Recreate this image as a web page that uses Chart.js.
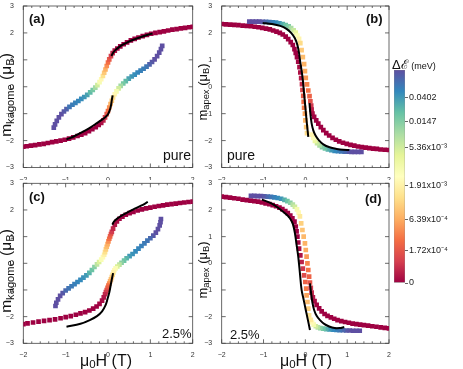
<!DOCTYPE html>
<html>
<head>
<meta charset="utf-8">
<script src="https://cdn.jsdelivr.net/npm/chart.js@4.4.1/dist/chart.umd.min.js"></script>
<style>
  body { margin: 0; background: #fff; width: 463px; height: 369px; position: relative; overflow: hidden;
         font-family: "Liberation Sans", Arial, sans-serif; }
  canvas { position: absolute; }
  .txt { position: absolute; white-space: nowrap; color: #111; line-height: 1; }
  .rot { transform: translate(-50%, -50%) rotate(-90deg); }
  .mid { transform: translate(-50%, -50%); }
  .s { font-size: 0.72em; vertical-align: -0.2em; }
  .lab { font-weight: bold; font-size: 13px; }
</style>
</head>
<body>
<canvas id="pa" width="200" height="180" style="left:0;top:0"></canvas>
<canvas id="pb" width="200" height="180" style="left:200px;top:0"></canvas>
<canvas id="pc" width="200" height="193" style="left:0;top:176px"></canvas>
<canvas id="pd" width="200" height="193" style="left:200px;top:176px"></canvas>
<canvas id="cbar" width="78" height="240" style="left:385px;top:55px"></canvas>

<div class="txt rot" style="left:7px;top:95px;font-size:15.5px">m<span class="s">kagome</span> (μ<span class="s">B</span>)</div>
<div class="txt rot" style="left:204px;top:92px;font-size:13px">m<span class="s">apex</span> (μ<span class="s">B</span>)</div>
<div class="txt rot" style="left:7px;top:271px;font-size:15.5px">m<span class="s">kagome</span> (μ<span class="s">B</span>)</div>
<div class="txt rot" style="left:204px;top:270px;font-size:13px">m<span class="s">apex</span> (μ<span class="s">B</span>)</div>
<div class="txt mid" style="left:106px;top:362px;font-size:16px">μ<span class="s">0</span>H (T)</div>
<div class="txt mid" style="left:306px;top:362px;font-size:16px">μ<span class="s">0</span>H (T)</div>
<div class="txt lab" style="left:29px;top:12px">(a)</div>
<div class="txt lab" style="left:366px;top:12px">(b)</div>
<div class="txt lab" style="left:29px;top:190px">(c)</div>
<div class="txt lab" style="left:365px;top:192px">(d)</div>
<div class="txt" style="left:163px;top:148px;font-size:14px">pure</div>
<div class="txt" style="left:227px;top:148px;font-size:14px">pure</div>
<div class="txt" style="left:162px;top:327px;font-size:13px">2.5%</div>
<div class="txt" style="left:230px;top:328px;font-size:13px">2.5%</div>
<div class="txt" style="left:392px;top:58px;font-size:13px">Δℰ<span style="font-size:9px"> (meV)</span></div>

<script>
// Colour bar: energy gap ΔE (meV) and where each tick sits along the bar (0 = bottom, 1 = top)
const cbarLabels = ["0", "1.72x10⁻⁴", "6.39x10⁻⁴", "1.91x10⁻³", "5.36x10⁻³", "0.0147", "0.0402"];
const cbarValues = [0, 1.72e-4, 6.39e-4, 1.91e-3, 5.36e-3, 0.0147, 0.0402];
const cbarPos = [0, 0.152, 0.296, 0.457, 0.637, 0.76, 0.87];
const cbarTop = 0.13; // gap at the very top of the bar

// (a) m_kagome, pure - field up sweep, field down sweep (shared gap colours)
const aUpH = [-1.28,-1.25,-1.21,-1.16,-1.1,-1.04,-0.98,-0.91,-0.84,-0.77,-0.7,-0.63,-0.56,-0.49,-0.42,-0.36,-0.3,-0.25,-0.2,-0.16,-0.12,-0.09,-0.06,-0.03,0,0.03,0.07,0.11,0.16,0.22,0.29,0.37,0.45,0.54,0.63,0.72,0.82,0.92,1.02,1.12,1.22,1.32,1.42,1.52,1.62,1.72,1.82,1.92,2.0];
const aUpM = [-1.52,-1.4,-1.27,-1.14,-1.02,-0.92,-0.83,-0.75,-0.67,-0.6,-0.53,-0.45,-0.38,-0.3,-0.21,-0.12,-0.03,0.06,0.17,0.28,0.4,0.52,0.64,0.77,0.9,1.02,1.14,1.25,1.34,1.42,1.5,1.58,1.65,1.72,1.78,1.83,1.88,1.93,1.97,2.0,2.03,2.06,2.09,2.12,2.14,2.17,2.19,2.21,2.23];
const aDnH = [1.28,1.25,1.21,1.16,1.1,1.04,0.98,0.91,0.84,0.77,0.7,0.63,0.56,0.49,0.42,0.36,0.3,0.25,0.2,0.16,0.12,0.09,0.06,0.03,0,-0.03,-0.07,-0.11,-0.16,-0.22,-0.29,-0.37,-0.45,-0.54,-0.63,-0.72,-0.82,-0.92,-1.02,-1.12,-1.22,-1.32,-1.42,-1.52,-1.62,-1.72,-1.82,-1.92,-2.0];
const aDnM = [1.52,1.4,1.27,1.14,1.02,0.92,0.83,0.75,0.67,0.6,0.53,0.45,0.38,0.3,0.21,0.12,0.03,-0.06,-0.17,-0.28,-0.4,-0.52,-0.64,-0.77,-0.9,-1.02,-1.14,-1.25,-1.34,-1.42,-1.5,-1.58,-1.65,-1.72,-1.78,-1.83,-1.88,-1.93,-1.97,-2.0,-2.03,-2.06,-2.09,-2.12,-2.14,-2.17,-2.19,-2.21,-2.23];
const aGap = [0.15,0.15,0.15,0.14,0.13,0.12,0.11,0.085,0.075,0.07,0.065,0.055,0.045,0.037,0.027,0.019,0.011,0.0055,0.0034,0.0023,0.0015,0.0011,7.5e-4,5e-4,3.3e-4,1.9e-4,1.2e-4,7e-5,3e-5,1e-5,0,0,0,0,0,0,0,0,0,0,0,0,0,0,0,0,0,0,0];
const aFitUpH = [0.08,0.12,0.18,0.26,0.36,0.48,0.62,0.78,0.94,1.05];
const aFitUpM = [1.14,1.26,1.37,1.47,1.57,1.67,1.76,1.85,1.93,1.98];
const aFitDnH = [0.11,0.09,0.07,0.04,0.0,-0.06,-0.14,-0.26,-0.42,-0.6,-0.8,-0.98];
const aFitDnM = [-0.32,-0.5,-0.7,-0.88,-1.02,-1.12,-1.22,-1.35,-1.52,-1.68,-1.84,-1.96];

// (b) m_apex, pure
const bUpH = [-1.34,-1.26,-1.18,-1.1,-1.02,-0.94,-0.86,-0.78,-0.7,-0.62,-0.54,-0.47,-0.4,-0.34,-0.28,-0.23,-0.19,-0.15,
  -0.12,-0.09,-0.06,-0.03,-0.01,0.01,0.04,0.07,0.1,0.12,0.14,0.15,
  0.17,0.21,0.26,0.31,0.37,0.43,0.5,0.57,0.65,0.73,0.81,0.9,0.99,1.08,1.17,1.26,1.35,1.44,1.53,1.62,1.71,1.8,1.9,2.0];
const bUpM = [2.42,2.42,2.42,2.42,2.41,2.41,2.4,2.39,2.38,2.36,2.33,2.29,2.24,2.18,2.1,2.01,1.9,1.78,
  1.62,1.36,1.1,0.84,0.58,0.33,0.09,-0.14,-0.35,-0.54,-0.7,-0.85,
  -1.0,-1.12,-1.25,-1.37,-1.5,-1.61,-1.72,-1.81,-1.9,-1.97,-2.03,-2.08,-2.12,-2.16,-2.19,-2.22,-2.24,-2.26,-2.28,-2.3,-2.31,-2.33,-2.34,-2.35];
const bUpGap = [0.15,0.15,0.14,0.13,0.12,0.1,0.085,0.072,0.06,0.045,0.032,0.022,0.015,0.01,0.0065,0.0042,0.003,0.0021,
  1.4e-3,1.1e-3,9e-4,7.5e-4,6.5e-4,5.5e-4,4.5e-4,3.5e-4,2.5e-4,1.6e-4,1e-4,6e-5,
  3e-5,1e-5,0,0,0,0,0,0,0,0,0,0,0,0,0,0,0,0,0,0,0,0,0,0];
const bDnH = [1.34,1.26,1.18,1.1,1.02,0.94,0.86,0.78,0.7,0.62,0.54,0.47,0.4,0.34,0.28,0.23,0.19,0.15,
  0.04,0.02,0.0,-0.01,-0.03,-0.04,-0.05,-0.07,-0.08,-0.1,-0.12,-0.14,-0.17,-0.2,-0.23,-0.26,
  -0.3,-0.35,-0.41,-0.47,-0.54,-0.61,-0.69,-0.77,-0.85,-0.94,-1.03,-1.12,-1.21,-1.3,-1.4,-1.5,-1.6,-1.7,-1.8,-1.9,-2.0];
const bDnM = [-2.42,-2.42,-2.42,-2.42,-2.41,-2.41,-2.4,-2.39,-2.38,-2.36,-2.33,-2.29,-2.24,-2.18,-2.1,-2.01,-1.9,-1.78,
  -1.72,-1.5,-1.25,-1.0,-0.78,-0.56,-0.34,-0.12,0.1,0.32,0.53,0.73,0.93,1.1,1.26,1.4,
  1.55,1.66,1.77,1.86,1.94,2.0,2.05,2.09,2.13,2.16,2.19,2.21,2.23,2.25,2.26,2.27,2.29,2.3,2.31,2.32,2.33];
const bDnGap = [0.15,0.15,0.14,0.13,0.12,0.1,0.085,0.072,0.06,0.045,0.032,0.022,0.015,0.01,0.0065,0.0042,0.003,0.0021,
  1.4e-3,1.1e-3,8e-4,6e-4,4e-4,3e-4,2e-4,1.3e-4,8e-5,5e-5,3e-5,2e-5,1e-5,0,0,0,
  0,0,0,0,0,0,0,0,0,0,0,0,0,0,0,0,0,0,0,0,0];
const bFitUpH = [-1.02,-0.8,-0.6,-0.45,-0.34,-0.25,-0.19,-0.15,-0.12,-0.09,-0.06,-0.04,-0.01,0.02,0.045,0.07];
const bFitUpM = [2.37,2.33,2.26,2.15,2.0,1.8,1.55,1.24,0.9,0.6,0.25,-0.1,-0.6,-1.1,-1.5,-1.86];
const bFitDnH = [0.1,0.12,0.15,0.19,0.24,0.32,0.43,0.58,0.75,0.9,1.05];
const bFitDnM = [-0.61,-1.0,-1.36,-1.62,-1.8,-1.98,-2.14,-2.25,-2.31,-2.34,-2.35];

// (c) m_kagome, 2.5%
const cUpH = [-1.24,-1.22,-1.18,-1.13,-1.07,-1.0,-0.93,-0.86,-0.79,-0.72,-0.65,-0.58,-0.51,-0.44,-0.38,-0.32,-0.26,-0.21,-0.16,-0.12,-0.09,-0.07,-0.05,-0.03,-0.01,0.01,0.03,0.05,0.07,0.09,0.12,0.16,0.21,0.27,0.34,0.42,0.51,0.6,0.7,0.8,0.9,1.0,1.1,1.2,1.3,1.4,1.5,1.6,1.7,1.8,1.9,2.0];
const cUpM = [-1.6,-1.48,-1.35,-1.22,-1.12,-1.02,-0.94,-0.86,-0.78,-0.7,-0.62,-0.54,-0.45,-0.36,-0.25,-0.14,-0.04,0.05,0.14,0.23,0.32,0.42,0.52,0.62,0.72,0.82,0.92,1.01,1.1,1.18,1.3,1.45,1.57,1.67,1.75,1.82,1.88,1.93,1.98,2.02,2.06,2.09,2.12,2.15,2.17,2.2,2.22,2.24,2.26,2.28,2.3,2.31];
const cUpGap = [0.15,0.15,0.15,0.14,0.12,0.1,0.085,0.078,0.072,0.066,0.058,0.05,0.04,0.03,0.022,0.014,0.008,0.005,0.0032,0.0024,0.0019,0.0015,0.0012,9e-4,7e-4,5e-4,3.5e-4,2.5e-4,1.7e-4,1.1e-4,7e-5,4e-5,2e-5,1e-5,0,0,0,0,0,0,0,0,0,0,0,0,0,0,0,0,0,0];
const cDnH = [1.25,1.24,1.22,1.18,1.13,1.07,1.0,0.93,0.86,0.79,0.72,0.65,0.58,0.51,0.44,0.38,0.32,0.27,0.22,0.18,0.15,0.13,0.11,0.09,0.07,0.05,0.03,0.01,-0.01,-0.03,-0.05,-0.07,-0.1,-0.14,-0.2,-0.27,-0.35,-0.44,-0.54,-0.65,-0.76,-0.88,-1.0,-1.12,-1.25,-1.38,-1.51,-1.64,-1.77,-1.9,-2.0];
const cDnM = [1.66,1.54,1.42,1.28,1.15,1.04,0.94,0.85,0.75,0.65,0.55,0.45,0.35,0.27,0.19,0.1,0.02,-0.05,-0.12,-0.19,-0.26,-0.34,-0.43,-0.52,-0.6,-0.68,-0.76,-0.84,-0.92,-1.0,-1.08,-1.16,-1.28,-1.4,-1.52,-1.62,-1.7,-1.77,-1.83,-1.88,-1.93,-1.98,-2.02,-2.06,-2.1,-2.13,-2.16,-2.19,-2.22,-2.25,-2.28];
const cDnGap = [0.15,0.15,0.15,0.15,0.14,0.12,0.1,0.085,0.078,0.072,0.066,0.058,0.05,0.04,0.03,0.022,0.014,0.008,0.005,0.0032,0.0024,0.0019,0.0015,0.0012,9e-4,7e-4,5e-4,3.5e-4,2.5e-4,1.7e-4,1.1e-4,7e-5,4e-5,2e-5,1e-5,0,0,0,0,0,0,0,0,0,0,0,0,0,0,0,0];
const cFitUpH = [0.1,0.15,0.22,0.32,0.45,0.6,0.78,0.94];
const cFitUpM = [1.45,1.58,1.68,1.79,1.9,2.02,2.16,2.3];
const cFitDnH = [0.12,0.09,0.06,0.03,-0.01,-0.06,-0.14,-0.26,-0.43,-0.65,-0.98];
const cFitDnM = [-0.37,-0.6,-0.85,-1.1,-1.33,-1.58,-1.8,-1.98,-2.13,-2.27,-2.38];

// (d) m_apex, 2.5%
const dUpH = [-1.3,-1.22,-1.14,-1.06,-0.98,-0.9,-0.82,-0.74,-0.66,-0.58,-0.5,-0.43,-0.36,-0.3,-0.25,-0.2,-0.16,-0.13,
  -0.1,-0.07,-0.04,-0.01,0.01,0.03,0.05,0.07,0.09,0.11,0.13,0.15,0.18,
  0.22,0.27,0.33,0.39,0.46,0.53,0.61,0.69,0.77,0.86,0.95,1.04,1.13,1.22,1.31,1.4,1.5,1.6,1.7,1.8,1.9,2.0];
const dUpM = [2.53,2.53,2.52,2.52,2.51,2.5,2.49,2.47,2.45,2.42,2.38,2.33,2.27,2.2,2.12,2.02,1.9,1.76,
  1.5,1.25,1.0,0.75,0.5,0.25,0.0,-0.25,-0.5,-0.72,-0.92,-1.1,-1.28,
  -1.42,-1.56,-1.69,-1.8,-1.9,-1.97,-2.03,-2.08,-2.13,-2.17,-2.2,-2.23,-2.26,-2.28,-2.3,-2.32,-2.34,-2.36,-2.38,-2.4,-2.42,-2.44];
const dUpGap = [0.15,0.15,0.14,0.13,0.12,0.1,0.085,0.072,0.06,0.045,0.032,0.022,0.014,0.009,0.0055,0.0035,0.0024,0.0017,
  1.2e-3,1e-3,8.5e-4,7.5e-4,6.5e-4,5.5e-4,4.5e-4,3.5e-4,2.5e-4,1.7e-4,1.1e-4,7e-5,4e-5,
  2e-5,1e-5,0,0,0,0,0,0,0,0,0,0,0,0,0,0,0,0,0,0,0,0];
const dDnH = [1.3,1.22,1.14,1.06,0.98,0.9,0.82,0.74,0.66,0.58,0.5,0.43,0.36,0.3,0.25,0.2,0.16,0.13,
  0.09,0.07,0.05,0.03,0.02,0.0,-0.03,-0.06,-0.09,-0.12,-0.15,-0.17,-0.19,-0.21,-0.23,
  -0.26,-0.31,-0.36,-0.42,-0.48,-0.55,-0.62,-0.7,-0.78,-0.86,-0.95,-1.04,-1.13,-1.22,-1.31,-1.4,-1.5,-1.6,-1.7,-1.8,-1.9,-2.0];
const dDnM = [-2.53,-2.53,-2.53,-2.52,-2.52,-2.51,-2.51,-2.5,-2.49,-2.48,-2.47,-2.45,-2.43,-2.4,-2.36,-2.3,-2.22,-2.12,
  -1.95,-1.7,-1.45,-1.2,-0.95,-0.7,-0.45,-0.2,0.05,0.3,0.55,0.78,1.0,1.2,1.38,
  1.56,1.69,1.79,1.88,1.96,2.03,2.09,2.14,2.18,2.22,2.25,2.28,2.31,2.33,2.35,2.37,2.39,2.42,2.44,2.46,2.48,2.5];
const dDnGap = [0.15,0.15,0.14,0.13,0.12,0.1,0.085,0.072,0.06,0.045,0.032,0.022,0.014,0.009,0.0055,0.0035,0.0024,0.0017,
  1.6e-3,1.2e-3,9e-4,6e-4,4e-4,2.5e-4,1.5e-4,1e-4,6e-5,3e-5,2e-5,1e-5,0,0,0,
  0,0,0,0,0,0,0,0,0,0,0,0,0,0,0,0,0,0,0,0,0,0];
const dFitUpH = [-1.04,-0.8,-0.6,-0.46,-0.37,-0.3,-0.25,-0.21,-0.17,-0.13,-0.09,-0.04,0.01,0.06,0.11];
const dFitUpM = [2.39,2.24,2.02,1.84,1.69,1.48,1.13,0.7,0.25,-0.37,-1.0,-1.37,-1.75,-2.12,-2.5];
const dFitDnH = [0.11,0.14,0.17,0.21,0.27,0.35,0.45,0.57,0.7,0.82,0.93];
const dFitDnM = [-0.75,-1.15,-1.48,-1.75,-1.97,-2.13,-2.27,-2.37,-2.43,-2.43,-2.39];

// matplotlib "Spectral"
const SPECTRAL = ["#9e0142","#d53e4f","#f46d43","#fdae61","#fee08b","#ffffbf","#e6f598","#abdda4","#66c2a5","#3288bd","#5e4fa2"];
const FONT = "'Liberation Sans', Arial, sans-serif";

// Where a gap value sits on the colour bar (piecewise between the bar's ticks)
function gapToLevel(g) {
    const vals = cbarValues.concat([cbarTop]);
    const pos = cbarPos.concat([1]);
    for (let i = 1; i < vals.length; i++) {
        if (g <= vals[i]) return pos[i - 1] + (g - vals[i - 1]) / (vals[i] - vals[i - 1]) * (pos[i] - pos[i - 1]);
    }
    return 1;
}

function hexToRgb(h) {
    return [1, 3, 5].map(i => parseInt(h.slice(i, i + 2), 16));
}

function spectral(t) {
    const f = Math.min(Math.max(t, 0), 1) * (SPECTRAL.length - 1);
    const i = Math.min(Math.floor(f), SPECTRAL.length - 2);
    const a = hexToRgb(SPECTRAL[i]), b = hexToRgb(SPECTRAL[i + 1]);
    const k = f - i;
    return `rgb(${a.map((v, j) => Math.round(v + (b[j] - v) * k)).join(",")})`;
}

function zip(h, m) {
    return h.map((x, i) => ({ x, y: m[i] }));
}

// Scatter markers coloured by gap
function sweep(h, m, gap) {
    return {
        data: zip(h, m),
        pointStyle: "rect",
        pointRadius: 3.3,
        pointBorderWidth: 0,
        pointBackgroundColor: gap.map(g => spectral(gapToLevel(g))),
        showLine: false,
        order: 1
    };
}

// Black fitted curve
function fit(h, m) {
    return {
        data: zip(h, m),
        showLine: true,
        borderColor: "#000",
        borderWidth: 2,
        pointRadius: 0,
        tension: 0.35,
        order: 0
    };
}

// Box around the plot with inward ticks
const boxPlugin = {
    id: "box",
    beforeDatasetsDraw(chart) {
        const { ctx, chartArea: a, scales: { x, y } } = chart;
        ctx.save();
        ctx.strokeStyle = "#444";
        ctx.lineWidth = 0.8;
        ctx.strokeRect(a.left, a.top, a.right - a.left, a.bottom - a.top);
        ctx.beginPath();
        for (let k = -10; k <= 10; k++) {
            const px = x.getPixelForValue(k / 5);
            const len = k % 5 === 0 ? 4 : 2;
            ctx.moveTo(px, a.bottom); ctx.lineTo(px, a.bottom - len);
            ctx.moveTo(px, a.top); ctx.lineTo(px, a.top + len);
        }
        for (let v = -3; v <= 3; v++) {
            const py = y.getPixelForValue(v);
            ctx.moveTo(a.left, py); ctx.lineTo(a.left + 4, py);
            ctx.moveTo(a.right, py); ctx.lineTo(a.right - 4, py);
        }
        ctx.stroke();
        ctx.restore();
    }
};

const tickLabel = v => (Number.isInteger(v) ? String(v).replace("-", "\u2212") : "");

function makePanel(id, datasets, pad, yWidth, xHeight) {
    new Chart(document.getElementById(id), {
        type: "scatter",
        data: { datasets },
        options: {
            responsive: false,
            animation: false,
            devicePixelRatio: 1,
            layout: { padding: pad },
            plugins: { legend: { display: false }, tooltip: { enabled: false } },
            scales: {
                x: {
                    min: -2, max: 2,
                    grid: { display: false },
                    border: { display: false },
                    ticks: { stepSize: 1, autoSkip: false, maxRotation: 0, padding: 0, color: "#333", font: { size: 7, family: FONT }, callback: tickLabel },
                    afterFit: s => { s.height = xHeight; }
                },
                y: {
                    min: -3, max: 3,
                    grid: { display: false },
                    border: { display: false },
                    ticks: { stepSize: 1, autoSkip: false, padding: 1.5, color: "#333", font: { size: 7, family: FONT }, callback: tickLabel },
                    afterFit: s => { s.width = yWidth; }
                }
            }
        },
        plugins: [boxPlugin]
    });
}

makePanel("pa", [fit(aFitUpH, aFitUpM), fit(aFitDnH, aFitDnM), sweep(aUpH, aUpM, aGap), sweep(aDnH, aDnM, aGap)],
    { top: 6, right: 7.3, left: 0, bottom: 0 }, 23.3, 12.5);
makePanel("pb", [fit(bFitUpH, bFitUpM), fit(bFitDnH, bFitDnM), sweep(bUpH, bUpM, bUpGap), sweep(bDnH, bDnM, bDnGap)],
    { top: 6, right: 11, left: 0, bottom: 0 }, 21.7, 12.5);
makePanel("pc", [fit(cFitUpH, cFitUpM), fit(cFitDnH, cFitDnM), sweep(cUpH, cUpM, cUpGap), sweep(cDnH, cDnM, cDnGap)],
    { top: 7.3, right: 7.3, left: 0, bottom: 0 }, 23.3, 25.7);
makePanel("pd", [fit(dFitUpH, dFitUpM), fit(dFitDnH, dFitDnM), sweep(dUpH, dUpM, dUpGap), sweep(dDnH, dDnM, dDnGap)],
    { top: 7.3, right: 11, left: 0, bottom: 0 }, 21.7, 25.7);

// Colour bar as a single full-height bar filled with the colour map
new Chart(document.getElementById("cbar"), {
    type: "bar",
    data: {
        labels: [""],
        datasets: [{
            data: [1],
            barPercentage: 1,
            categoryPercentage: 1,
            borderWidth: 0.6,
            borderColor: "#888",
            borderSkipped: false,
            backgroundColor: c => {
                const area = c.chart.chartArea;
                if (!area) return SPECTRAL[0];
                const g = c.chart.ctx.createLinearGradient(0, area.bottom, 0, area.top);
                SPECTRAL.forEach((col, i) => g.addColorStop(i / (SPECTRAL.length - 1), col));
                return g;
            }
        }]
    },
    options: {
        responsive: false,
        animation: false,
        devicePixelRatio: 1,
        layout: { padding: { left: 9, top: 15, bottom: 12, right: 0 } },
        plugins: { legend: { display: false }, tooltip: { enabled: false } },
        scales: {
            x: { display: false },
            y: {
                position: "right",
                min: 0, max: 1,
                border: { display: false },
                grid: { display: true, drawOnChartArea: false, tickLength: 3, color: "#666" },
                afterBuildTicks: s => { s.ticks = cbarPos.map(v => ({ value: v })); },
                ticks: { padding: 1, color: "#222", font: { size: 9, family: FONT }, callback: (v, i) => cbarLabels[i] },
                afterFit: s => { s.width = 58; }
            }
        }
    }
});
</script>
</body>
</html>
